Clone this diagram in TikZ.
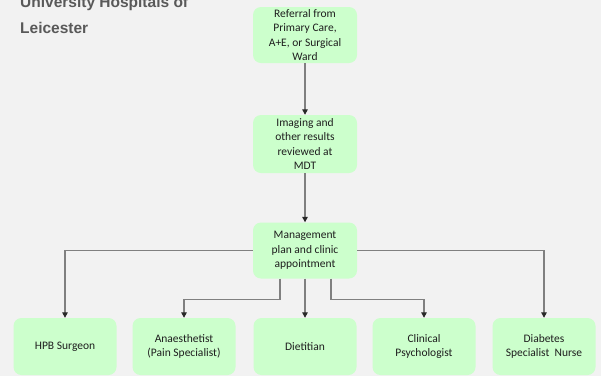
\documentclass[tikz,border=0pt]{standalone}
\usepackage{fontspec}
\setmainfont{Carlito}
\newfontfamily\titlefont{Liberation Sans}
\usetikzlibrary{arrows.meta,positioning}
\definecolor{paper}{RGB}{242,242,242}
\definecolor{mint}{RGB}{204,255,204}
\definecolor{wire}{RGB}{128,128,128}
\definecolor{tipink}{RGB}{40,40,40}
\definecolor{slate}{RGB}{89,89,89}
\definecolor{ink}{RGB}{30,30,30}
\tikzset{
  >={Triangle[length=5.5pt,width=5.5pt,color=tipink]},
  stage/.style={fill=mint,rounded corners=8pt,minimum width=104pt,minimum height=56pt,
    align=center,text=ink,font=\fontsize{11.5}{14.5}\selectfont,inner sep=2pt},
  team/.style={stage,minimum width=103pt,minimum height=57pt},
  conn/.style={->,draw=wire,line width=1.3pt},
}
\begin{document}
\begin{tikzpicture}[x=1pt,y=-1pt]
  \fill[paper] (0,0) rectangle (601,376);
  \useasboundingbox (0,0) rectangle (601,376);
  \clip (0,0) rectangle (601,376);
  % title, cut off at the top
  \node[anchor=base west,font=\titlefont\bfseries\fontsize{15.5}{26}\selectfont,text=slate,
    align=left,inner sep=0pt] (title) at (20,33) {University Hospitals of\\Leicester};
  % pathway
  \node[stage] (referral) at (305,35) {Referral from\\Primary Care,\\A+E, or Surgical\\Ward};
  \node[stage,minimum height=58pt] (mdt) at (305,144) {Imaging and\\other results\\reviewed at\\MDT};
  \node[stage] (plan) at (305,250.5) {Management\\plan and clinic\\appointment};
  % clinic team
  \node[team] (hpb)  at (65,346.5)  {HPB Surgeon};
  \node[team] (anae) at (184,346.5) {Anaesthetist\\(Pain Specialist)};
  \node[team] (diet) at (305,346.5) {Dietitian};
  \node[team] (psy)  at (424,346.5) {Clinical\\Psychologist};
  \node[team] (dsn)  at (544,346.5) {Diabetes\\Specialist\ \ Nurse};
  \draw[conn] (referral) -- (mdt);
  \draw[conn] (mdt) -- (plan);
  \draw[conn] (plan.west) -| (hpb.north);
  \draw[conn] ([xshift=-25pt]plan.south) -- ++(0,21) -| (anae.north);
  \draw[conn] (plan) -- (diet);
  \draw[conn] ([xshift=26pt]plan.south) -- ++(0,21) -| (psy.north);
  \draw[conn] (plan.east) -| (dsn.north);
\end{tikzpicture}
\end{document}
